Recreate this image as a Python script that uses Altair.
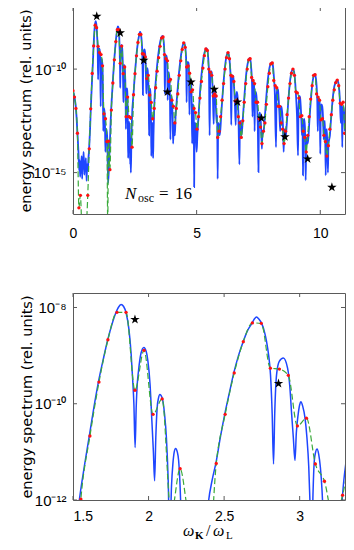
import altair as alt
import pandas as pd

# ---------------- data (exponents of 10) ----------------
blue_x = [0.0,0.06,0.12,0.18,0.22,0.25,0.27,0.29,0.31,0.33,0.35,0.37,0.39,0.41,0.43,0.46,0.48,0.50,0.52,0.55,
          0.57,0.60,0.62,0.65,0.69,0.72,0.76,0.80,0.84,0.88,0.915,0.95,0.98,1.0,1.015,1.03,1.05,1.075,1.10,1.12,
          1.135,1.16,1.19,1.21,1.225,1.24,1.26,1.29,1.31,1.33,1.36,1.39,1.42,1.45,1.47,
          1.49,1.52,1.542,1.575,1.608,1.638,1.668,1.70,1.73,1.758,1.785,1.80,1.818,1.835,1.852,1.87,1.885,1.895,1.903,1.911,
          1.918,1.925,1.933,1.95,1.969,1.985,1.996,2.01,2.022,2.032,2.04,2.048,2.057,2.066,2.075,2.09,2.106,2.118,2.13,2.14,
          2.152,2.161,2.17,2.179,2.19,2.199,2.212,2.222,2.232,2.245,2.258,2.272,2.285,2.30,2.315,2.325,2.34,2.36,2.38,
          2.398,2.42,2.449,2.475,2.504,2.535,2.564,2.595,2.626,2.655,2.686,2.70,2.714,2.73,2.748,2.765,2.781,2.795,2.807,2.818,
          2.827,2.835,2.847,2.865,2.892,2.92,2.935,2.947,2.958,2.969,2.978,2.99,3.0,3.008,3.02,3.035,3.048,3.06,3.07,3.079,
          3.088,3.097,3.106,3.115,3.126,3.137,3.148,3.158,3.168,3.18,3.195,3.21,3.225,3.24,3.255,3.268,3.28,3.292,
          3.305,3.34,3.38,3.42,3.46,3.50,3.54,3.58,3.62,3.65,3.68,3.70,3.715,3.73,3.76,3.79,3.81,3.83,3.845,3.87,
          3.895,3.92,3.94,3.955,3.98,4.005,4.03,4.05,4.07,4.09,4.12,
          4.15,4.19,4.23,4.27,4.31,4.35,4.39,4.44,4.49,4.53,4.56,4.58,4.595,4.61,4.64,4.67,4.69,4.71,4.725,4.75,
          4.78,4.80,4.82,4.835,4.86,4.885,4.90,4.915,4.94,4.97,5.0,
          5.03,5.07,5.11,5.15,5.19,5.23,5.27,5.32,5.40,5.44,5.47,5.50,5.525,5.55,5.58,5.61,5.635,5.66,5.69,5.71,
          5.735,5.76,5.785,5.81,5.83,5.85,5.87,5.9,5.93,
          5.96,6.0,6.04,6.08,6.12,6.16,6.21,6.27,6.31,6.35,6.38,6.40,6.42,6.45,6.48,6.51,6.545,6.58,6.60,6.63,
          6.66,6.69,6.73,6.75,6.78,6.81,
          6.84,6.88,6.92,6.96,7.0,7.04,7.09,7.14,7.18,7.21,7.24,7.26,7.28,7.31,7.33,7.345,7.36,7.39,7.42,7.45,
          7.475,7.50,7.52,7.55,7.58,7.61,7.64,7.66,7.69,
          7.72,7.76,7.80,7.84,7.88,7.93,7.98,8.04,8.08,8.12,8.16,8.21,8.23,8.26,8.29,8.32,8.35,8.38,8.40,8.43,
          8.46,8.49,8.52,8.54,8.57,8.60,
          8.63,8.67,8.71,8.75,8.79,8.84,8.90,8.94,8.98,9.02,9.06,9.10,9.12,9.15,9.18,9.21,9.24,9.26,9.28,9.30,
          9.32,9.35,9.38,9.41,9.43,9.46,9.49,
          9.52,9.56,9.60,9.64,9.68,9.72,9.77,9.81,9.85,9.88,9.90,9.92,9.95,9.98,10.0,10.02,10.05,10.08,10.11,10.14,
          10.16,10.19,10.22,10.24,10.27,10.31,10.33,10.36,
          10.39,10.43,10.47,10.51,10.55,10.60,10.65,10.69,10.73,10.77,10.80,10.83,10.85,10.87,10.89,10.91,10.94,10.97,11.0]
blue_e = [-11.04,-11.35,-11.9,-13.1,-14.0,-14.9,-14.4,-15.2,-14.5,-14.7,-14.2,-15.3,-14.4,-14.5,-14.0,-15.1,-14.5,-14.8,-14.3,-15.4,
          -14.6,-14.9,-14.4,-13.9,-12.9,-11.9,-10.8,-9.8,-8.7,-7.95,-7.68,-7.9,-8.5,-9.1,-10.5,-9.4,-9.0,-9.05,-9.6,-11.8,
          -10.0,-9.5,-9.8,-11.0,-13.0,-12.0,-11.9,-12.3,-14.0,-13.0,-12.9,-13.5,-15.5,-14.8,-14.2,
          -13.6,-12.6,-12.0,-11.3,-10.67,-10.08,-9.55,-9.08,-8.67,-8.35,-8.10,-8.0,-7.94,-7.98,-8.12,-8.45,-8.98,-9.5,-10.01,-10.91,
          -10.1,-9.6,-9.33,-8.95,-8.83,-8.92,-9.12,-9.6,-10.36,-11.0,-11.6,-10.7,-10.08,-9.88,-9.81,-9.88,-10.22,-10.7,-11.6,-12.9,
          -11.7,-11.25,-11.0,-10.93,-11.0,-11.18,-12.0,-13.2,-14.3,-13.0,-12.6,-12.55,-12.9,-13.8,-14.6,-13.9,-15.0,-13.6,-12.6,
          -12.0,-11.6,-11.18,-10.7,-10.22,-9.77,-9.36,-9.0,-8.71,-8.48,-8.32,-8.24,-8.2,-8.24,-8.33,-8.48,-8.71,-9.0,-9.4,-10.2,
          -11.25,-10.2,-9.4,-9.12,-9.05,-9.26,-9.65,-10.22,-10.7,-11.18,-10.6,-10.22,-10.02,-9.96,-10.05,-10.29,-10.7,-11.3,-12.2,-13.2,
          -11.9,-11.18,-11.0,-10.94,-11.05,-11.32,-11.8,-12.6,-14.2,-13.0,-12.6,-12.65,-13.1,-14.3,-13.2,-12.6,-12.05,-11.6,
          -11.25,-10.7,-10.1,-9.6,-9.2,-8.85,-8.6,-8.45,-8.4,-8.5,-8.85,-9.4,-11.2,-9.8,-9.35,-9.35,-9.8,-11.5,-10.4,-10.15,
          -10.4,-11.2,-13.4,-11.6,-11.3,-11.6,-12.4,-13.6,-12.8,-12.6,-13.2,
          -12.2,-11.6,-11.0,-10.4,-9.9,-9.5,-9.15,-8.85,-8.72,-8.85,-9.2,-9.7,-11.6,-10.0,-9.65,-9.7,-10.1,-12.2,-10.8,-10.5,
          -10.75,-11.6,-13.6,-11.9,-11.7,-12.1,-15.7,-12.9,-12.6,-13.0,-14.0,
          -13.2,-12.4,-11.6,-10.9,-10.35,-9.9,-9.5,-9.2,-9.0,-9.1,-9.5,-10.2,-13.2,-10.4,-10.1,-10.15,-10.6,-11.4,-12.65,-11.2,
          -11.0,-11.3,-12.0,-12.6,-12.2,-15.3,-12.8,-12.6,-13.2,
          -12.9,-12.1,-11.4,-10.75,-10.2,-9.75,-9.35,-9.2,-9.35,-9.85,-10.6,-12.7,-10.7,-10.3,-10.35,-10.8,-11.6,-12.7,-11.3,-11.1,
          -11.4,-12.2,-14.6,-12.6,-12.5,-13.2,
          -12.9,-12.2,-11.5,-10.85,-10.3,-9.9,-9.6,-9.47,-9.6,-10.0,-10.7,-12.3,-10.9,-10.6,-11.0,-13.0,-11.4,-11.1,-11.3,-11.9,
          -12.8,-14.97,-12.4,-12.1,-12.3,-12.9,-13.85,-13.0,-13.1,
          -12.9,-12.3,-11.6,-11.0,-10.5,-10.05,-9.78,-9.68,-9.8,-10.3,-11.1,-13.77,-11.4,-10.95,-11.0,-11.5,-12.2,-13.0,-12.0,-11.8,
          -12.1,-12.7,-14.0,-13.0,-12.9,-13.3,
          -12.9,-12.2,-11.5,-10.9,-10.45,-10.12,-10.0,-10.12,-10.55,-11.3,-12.3,-14.17,-11.9,-11.3,-11.35,-11.8,-12.6,-13.2,-12.4,-15.13,
          -12.6,-12.4,-12.8,-15.37,-13.6,-13.3,-13.6,
          -13.3,-12.5,-11.8,-11.2,-10.7,-10.4,-10.24,-10.35,-10.8,-11.6,-13.0,-11.7,-11.4,-11.7,-14.1,-12.0,-11.7,-11.8,-12.3,-13.4,
          -12.6,-12.5,-15.13,-13.0,-12.9,-15.0,-13.6,-13.4,
          -13.2,-12.5,-11.9,-11.35,-10.95,-10.7,-10.56,-10.53,-10.65,-11.05,-11.7,-12.6,-11.9,-11.7,-13.77,-11.9,-11.8,-12.2,-13.0]

dot_x = [0.000,0.060,0.119,0.179,0.239,0.299,0.358,0.418,0.478,0.537,
         0.597,0.657,0.716,0.776,0.836,0.896,0.955,1.015,1.075,1.134,
         1.194,1.254,1.313,1.373,1.433,1.493,1.552,1.612,1.672,1.731,
         1.791,1.851,1.910,1.970,2.030,2.090,2.149,2.209,2.269,2.328,
         2.388,2.448,2.507,2.567,2.627,2.687,2.746,2.806,2.866,2.925,
         2.985,3.045,3.104,3.164,3.224,3.284,3.343,3.403,3.463,3.522,
         3.582,3.642,3.701,3.761,3.821,3.881,3.940,4.000,4.060,4.119,
         4.179,4.239,4.298,4.358,4.418,4.478,4.537,4.597,4.657,4.716,
         4.776,4.836,4.895,4.955,5.015,5.075,5.134,5.194,5.254,5.313,
         5.373,5.433,5.492,5.552,5.612,5.672,5.731,5.791,5.851,5.910,
         5.970,6.030,6.089,6.149,6.209,6.269,6.328,6.388,6.448,6.507,
         6.567,6.627,6.686,6.746,6.806,6.866,6.925,6.985,7.045,7.104,
         7.164,7.224,7.283,7.343,7.403,7.463,7.522,7.582,7.642,7.701,
         7.761,7.821,7.880,7.940,8.000,8.060,8.119,8.179,8.239,8.298,
         8.358,8.418,8.477,8.537,8.597,8.657,8.716,8.776,8.836,8.895,
         8.955,9.015,9.074,9.134,9.194,9.254,9.313,9.373,9.433,9.492,
         9.552,9.612,9.671,9.731,9.791,9.851,9.910,9.970,10.030,10.089,
         10.149,10.209,10.268,10.328,10.388,10.448,10.507,10.567,10.627,10.686,
         10.746,10.806,10.866,10.925,10.985]
dot_e = [-11.04,-11.35,-11.9,-13.1,-16.7,-16.1,-17.6,-18.0,-18.0,-17.6,
         -16.1,-13.85,-11.92,-10.21,-8.88,-7.88,-8.0,-8.9,-9.2,-9.3,
         -9.84,-12.16,-12.4,-13.5,-13.48,-14.86,-11.98,-10.67,-9.55,-8.67,
         -8.10,-8.10,-9.72,-8.89,-10.22,-9.90,-12.3,-11.35,-12.3,-12.35,
         -13.77,-11.24,-10.22,-9.36,-8.71,-8.32,-8.33,-9.26,-9.28,-9.41,
         -10.46,-10.30,-11.25,-11.61,-12.4,-11.9,-10.9,-10.1,-9.45,-8.9,
         -8.5,-8.45,-9.3,-9.5,-9.6,-10.6,-10.5,-11.5,-11.8,-12.6,
         -11.9,-11.2,-10.3,-9.6,-9.05,-8.73,-8.95,-9.9,-9.85,-10.2,
         -11.1,-11.0,-11.9,-12.1,-12.9,-12.3,-11.4,-10.6,-9.95,-9.35,
         -9.03,-9.1,-10.0,-10.15,-10.3,-11.3,-11.2,-11.3,-13.3,-13.0,
         -12.3,-11.5,-10.7,-10.0,-9.45,-9.2,-9.5,-10.3,-10.35,-10.6,
         -11.55,-11.5,-12.3,-12.6,-13.3,-12.5,-11.6,-10.7,-10.0,-9.55,
         -9.5,-10.4,-10.55,-10.7,-11.6,-11.6,-12.4,-12.8,-13.6,-13.0,
         -12.6,-11.7,-10.85,-10.2,-9.75,-9.7,-10.55,-10.8,-10.9,-11.8,
         -11.8,-12.6,-12.9,-13.6,-13.0,-12.2,-11.4,-10.7,-10.2,-10.0,
         -10.3,-11.1,-11.15,-11.4,-12.3,-12.25,-13.0,-13.3,-14.0,-13.2,
         -12.3,-11.45,-10.8,-10.3,-10.27,-11.2,-11.35,-11.5,-12.45,-12.4,
         -13.2,-13.5,-14.2,-13.7,-12.9,-12.2,-11.5,-11.0,-10.65,-10.53,
         -10.8,-11.65,-11.7,-11.6,-13.1]

green_extra_x = [1.405]
green_extra_e = [-17.5]

star_x = [0.96, 1.91, 2.86, 3.82, 4.77, 5.71, 6.65, 7.62, 8.57, 9.49, 10.47]
star_e = [-7.45, -8.25, -9.58, -11.11, -10.63, -10.98, -11.59, -12.37, -13.27, -14.34, -15.71]

top_xticks = [0, 5, 10]
top_yticks = [1e-15, 1e-10]
bot_xticks = [1.5, 2, 2.5, 3]
bot_yticks = [1e-12, 1e-10, 1e-8]

# ---------------- frames ----------------
blue_df = pd.DataFrame({"x": blue_x, "y": [10.0 ** e for e in blue_e]})
dots_df = pd.DataFrame({"x": dot_x, "y": [10.0 ** e for e in dot_e]})
green_df = pd.concat([dots_df, pd.DataFrame({"x": green_extra_x, "y": [10.0 ** e for e in green_extra_e]})]).sort_values("x")
star_df = pd.DataFrame({"x": star_x, "y": [10.0 ** e for e in star_e]})

BLUE = "#1e46ff"
GREEN = "#3aaa3a"
RED = "#ff1010"
FRAME = "#5a5a5a"
STAR = ("M0,-1L0.2245,-0.309L0.9511,-0.309L0.3633,0.118L0.5878,0.809L0,0.382"
        "L-0.5878,0.809L-0.3633,0.118L-0.9511,-0.309L-0.2245,-0.309Z")
W, H = 272, 207


def txt(s, x, y, size, font="Liberation Serif", style="normal", weight="normal"):
    return alt.Chart(pd.DataFrame({"t": [s]})).mark_text(
        text=s, align="left", baseline="alphabetic", font=font, fontSize=size,
        fontStyle=style, fontWeight=weight, color="black"
    ).encode(x=alt.value(x), y=alt.value(y))


def panel(xdom, ydom, xvals, xfmt, xflush, xlabpad, yvals, yexpr, blue_w, texts):
    xs = alt.Scale(domain=xdom, nice=False, zero=False)
    ys = alt.Scale(type="log", domain=ydom, nice=False)
    xaxis = alt.Axis(values=xvals, format=xfmt, title=None, ticks=False, tickSize=0,
                     domain=False, grid=False, labelPadding=xlabpad, labelFlush=xflush,
                     labelFont="Liberation Sans", labelFontSize=14, labelColor="black")
    yaxis = alt.Axis(values=yvals, labelExpr=yexpr, title="energy spectrum (rel. units)",
                     ticks=False, tickSize=0, domain=False, grid=False, labelPadding=7,
                     titlePadding=0, labelFont="Liberation Sans", labelFontSize=15,
                     labelColor="black", titleFont="DejaVu Sans", titleFontSize=14.5,
                     titleFontWeight="normal", titleColor="black", labelBaseline="middle")
    X = lambda f="x": alt.X(f + ":Q", scale=xs, axis=xaxis, title=None)
    Y = lambda f="y": alt.Y(f + ":Q", scale=ys, axis=yaxis, title="energy spectrum (rel. units)")
    line = alt.Chart(blue_df).mark_line(color=BLUE, strokeWidth=blue_w, interpolate="monotone",
                                        clip=True).encode(x=X(), y=Y())
    green = alt.Chart(green_df).mark_line(color=GREEN, strokeWidth=1.2, strokeDash=[6, 3],
                                          interpolate="monotone", clip=True).encode(x=X(), y=Y())
    dots = alt.Chart(dots_df).mark_circle(color=RED, size=11, opacity=1, clip=True).encode(x=X(), y=Y())
    stars = alt.Chart(star_df).mark_point(shape=STAR, filled=True, color="black", size=100,
                                          opacity=1, clip=True).encode(x=X(), y=Y())
    xt = pd.DataFrame({"v": xvals})
    yt = pd.DataFrame({"v": yvals})
    tx1 = alt.Chart(xt).mark_rule(color=FRAME, strokeWidth=1).encode(
        x=X("v"), y=alt.value(H), y2=alt.value(H - 4))
    tx2 = alt.Chart(xt).mark_rule(color=FRAME, strokeWidth=1).encode(
        x=X("v"), y=alt.value(0), y2=alt.value(4))
    ty1 = alt.Chart(yt).mark_rule(color=FRAME, strokeWidth=1).encode(
        y=Y("v"), x=alt.value(0), x2=alt.value(4))
    ty2 = alt.Chart(yt).mark_rule(color=FRAME, strokeWidth=1).encode(
        y=Y("v"), x=alt.value(W - 4), x2=alt.value(W))
    return alt.layer(line, green, dots, stars, tx1, tx2, ty1, ty2, *texts).properties(width=W, height=H)


top_texts = [
    txt("N", 52, 192, 17, style="italic"),
    txt("osc", 65, 195, 12),
    txt("=", 86, 192, 17),
    txt("16", 102, 192, 17),
]
bot_texts = [
    txt("ω", 110, 243, 16, style="italic"),
    txt("K", 122, 245.5, 11, weight="bold"),
    txt("/", 133, 243, 16),
    txt("ω", 140, 243, 16, style="italic"),
    txt("L", 153, 245.5, 11),
]

top = panel([0, 11], [1e-17, 1e-7], top_xticks, "d", False, 12, top_yticks,
            "datum.value < 1e-12 ? '10⁻¹⁵' : '10⁻¹⁰'", 1.8, top_texts)
bottom = panel([1.5, 3.3], [1e-12, 2e-8], bot_xticks, "~g", True, 9, bot_yticks,
               "datum.value > 1e-9 ? '10⁻⁸' : (datum.value > 1e-11 ? '10⁻¹⁰' : '10⁻¹²')", 1.5, bot_texts)

chart = alt.vconcat(top, bottom, spacing=51).properties(
    padding={"left": 9, "top": -2, "right": 0, "bottom": -2},
    background="white",
).configure_view(stroke=FRAME, strokeWidth=1)

chart.save("out.html", embed_options={"renderer": "svg", "actions": False})
